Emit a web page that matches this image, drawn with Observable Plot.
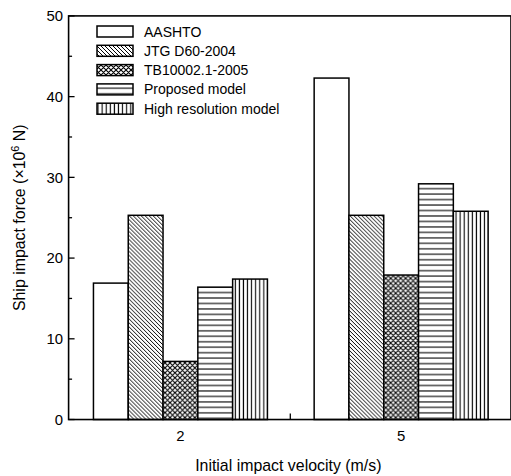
<!DOCTYPE html>
<html><head><meta charset="utf-8">
<script src="https://cdn.jsdelivr.net/npm/d3@7"></script>
<script src="https://cdn.jsdelivr.net/npm/@observablehq/plot@0.6"></script>
<style>
body{margin:0;background:#fff;overflow:hidden}
#chart{position:relative;width:511px;height:476px;overflow:hidden}
#legend{position:absolute;left:96px;top:25px}
</style>
</head><body><div id="chart"></div>
<script>
// ---- data ----
const velocities = ["2", "5"];
const models = ["AASHTO", "JTG D60-2004", "TB10002.1-2005", "Proposed model", "High resolution model"];
const aashto   = [16.9, 42.3];
const jtg      = [25.3, 25.3];
const tb       = [7.2, 17.9];
const proposed = [16.4, 29.2];
const highRes  = [17.4, 25.8];
const yTicks = [0, 10, 20, 30, 40, 50];
const yMinorTicks = [5, 15, 25, 35, 45];
const yLabelParts = ["Ship impact force (×10", "6", " N)"];
const xLabel = "Initial impact velocity (m/s)";

const series = [aashto, jtg, tb, proposed, highRes];
const rows = [];
models.forEach((m, i) => velocities.forEach((v, j) => rows.push({model: m, velocity: v, value: series[i][j], idx: i})));

const font = "'Liberation Sans', Arial, sans-serif";

const plot = Plot.plot({
  width: 514, height: 476,
  marginLeft: 69, marginRight: 0, marginTop: 16, marginBottom: 54,
  style: {fontFamily: font, fontSize: "14px", color: "#000", background: "#fff", overflow: "visible"},
  fx: {domain: velocities, padding: 0, axis: null},
  x: {domain: models, paddingInner: 0, paddingOuter: 0.62, axis: null},
  y: {domain: [0, 50], axis: null},
  marks: [
    ...models.map((m, i) => Plot.barY(rows.filter(r => r.model === m), {
      fx: "velocity", x: "model", y: "value",
      fill: `url(#pat${i})`, stroke: "#000", strokeWidth: 1.5
    })),
    Plot.axisY({ticks: yTicks, tickSize: 0, tickPadding: 7, fontSize: 15, label: null}),
    Plot.axisFx({anchor: "bottom", tickSize: 0, tickPadding: 10, fontSize: 15, label: null})
  ]
});

const svg = d3.select(plot);
// patterns
const defs = svg.insert("defs", ":first-child");
function pat(id, w, h, d, sw) {
  const p = defs.append("pattern").attr("id", id).attr("patternUnits", "userSpaceOnUse")
    .attr("width", w).attr("height", h);
  p.append("rect").attr("width", w).attr("height", h).attr("fill", "#fff");
  if (d) p.append("path").attr("d", d).attr("stroke", "#000").attr("stroke-width", sw).attr("fill", "none");
}
pat("pat0", 4, 4, null, 0);
pat("pat1", 4, 4, "M-1,-1L5,5M-1,3L1,5M3,-1L5,1", 1);
pat("pat2", 5, 5, "M-1,-1L6,6M-1,6L6,-1M4,-1L6,1M-1,4L1,6M1,-1L-1,1M4,6L6,4", 1.1);
pat("pat3", 5, 5.5, "M0,2.75H5", 1.1);
pat("pat4", 4.1, 5, "M2,0V5", 1.1);

// frame lines and inward ticks built from the plot's scales
const ys = plot.scale("y"), fxs = plot.scale("fx");
const x0 = 69, x1 = 514;
const yTop = ys.apply(50), yBot = ys.apply(0);
const g = svg.append("g").attr("stroke", "#000").attr("fill", "none");
g.append("rect").attr("x", x0).attr("y", yTop).attr("width", x1 - x0).attr("height", yBot - yTop).attr("stroke-width", 1.6);
yTicks.forEach(t => g.append("line").attr("x1", x0).attr("x2", x0 + 6)
  .attr("y1", ys.apply(t)).attr("y2", ys.apply(t)).attr("stroke-width", 1.3));
yMinorTicks.forEach(t => g.append("line").attr("x1", x0).attr("x2", x0 + 3.5)
  .attr("y1", ys.apply(t)).attr("y2", ys.apply(t)).attr("stroke-width", 1.3));
const xb = fxs.apply("5");
g.append("line").attr("x1", xb).attr("x2", xb).attr("y1", yBot).attr("y2", yBot - 6).attr("stroke-width", 1.3);

// axis titles
const titles = svg.append("g").attr("fill", "#000").style("font-family", font).style("font-size", "16px");
titles.append("text").attr("x", 290).attr("y", 474).attr("text-anchor", "middle").text(xLabel);
const yt = titles.append("text").attr("transform", `translate(25,${(yTop + yBot) / 2}) rotate(-90)`)
  .attr("text-anchor", "middle");
yt.append("tspan").text(yLabelParts[0]);
yt.append("tspan").attr("dy", -6).style("font-size", "11px").text(yLabelParts[1]);
yt.append("tspan").attr("dy", 6).text(yLabelParts[2]);

const chart = document.getElementById("chart");
chart.appendChild(plot);

// legend
const lg = d3.select(chart).append("svg").attr("id", "legend").attr("width", 200).attr("height", 100)
  .style("font-family", font).style("font-size", "14px");
models.forEach((m, i) => {
  const yy = 1 + i * 19.3;
  lg.append("rect").attr("x", 1).attr("y", yy).attr("width", 36).attr("height", 11)
    .attr("fill", `url(#pat${i})`).attr("stroke", "#000").attr("stroke-width", 1.5);
  lg.append("text").attr("x", 48).attr("y", yy + 5.5).attr("dy", "0.36em").attr("fill", "#000").text(m);
});
</script>
</body></html>
